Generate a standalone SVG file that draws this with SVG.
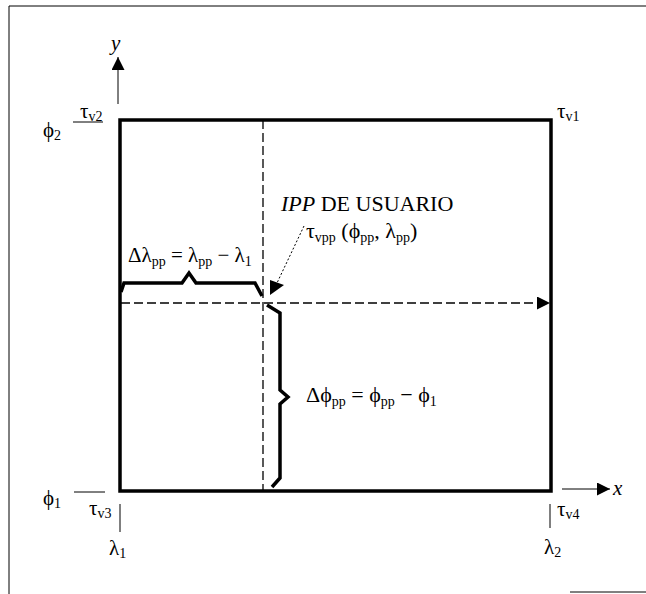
<svg xmlns="http://www.w3.org/2000/svg" width="646" height="594" viewBox="0 0 646 594">
<defs>
<style>
text{font-family:"Liberation Serif","Times New Roman",serif;fill:#000;font-size:21px}
.s{font-size:14px}
.it{font-style:italic}
.big{font-size:22px}
.thin{stroke:#000;stroke-width:1;fill:none}
.dash{stroke:#000;stroke-width:1.3;fill:none;stroke-dasharray:9 4}
.brace{stroke:#000;stroke-width:3.5;fill:none;stroke-linejoin:miter}
</style>
<marker id="ahb" viewBox="0 0 10 10" refX="10" refY="5" markerWidth="15" markerHeight="13" markerUnits="userSpaceOnUse" orient="auto">
<path d="M0,0 L10,5 L0,10 Z" fill="#000"/>
</marker>
</defs>
<rect width="646" height="594" fill="#fff"/>
<g id="frame">
<path d="M9,594 L9,6 L646,6" class="thin" stroke-width="1.5"/>
<path d="M570,592 L646,592" class="thin" stroke-width="1.5"/>
</g>
<g id="region">
<rect x="120" y="120" width="431" height="371" fill="none" stroke="#000" stroke-width="3.5"/>
</g>
<g id="connectors">
<line x1="118" y1="104" x2="118" y2="57" class="thin" marker-end="url(#ahb)"/>
<line x1="562" y1="489" x2="610" y2="489" class="thin" marker-end="url(#ahb)"/>
<line x1="263" y1="120" x2="263" y2="490" class="dash" stroke-dasharray="6 3"/>
<line x1="121" y1="303" x2="550" y2="303" class="dash" marker-end="url(#ahb)"/>
<line x1="304" y1="226" x2="277" y2="283" class="thin" stroke-dasharray="2 2"/>
<path d="M270,280 L284,285 L270,295 Z" fill="#000"/>
<line x1="73" y1="122" x2="103" y2="122" class="thin"/>
<line x1="74" y1="492" x2="105" y2="492" class="thin"/>
<line x1="120" y1="504" x2="120" y2="532" class="thin"/>
<line x1="550" y1="504" x2="550" y2="528" class="thin"/>
<path d="M121,292 L124,283 L182,283 L189,273 L196,283 L255,283 L262,296" class="brace"/>
<path d="M267,305 L280,313 L280,390 L288,397 L280,404 L280,478 L272,487" class="brace"/>
</g>
<g id="axis-y"><text x="111" y="50" class="it">y</text></g>
<g id="axis-x"><text x="613" y="495" class="it">x</text></g>
<g id="tv2"><text x="80" y="118">τ<tspan class="s" dy="3">v2</tspan></text></g>
<g id="tv1"><text x="557" y="118">τ<tspan class="s" dy="3">v1</tspan></text></g>
<g id="tv3"><text x="89" y="515">τ<tspan class="s" dy="3">v3</tspan></text></g>
<g id="tv4"><text x="557" y="516">τ<tspan class="s" dy="3">v4</tspan></text></g>
<g id="phi2"><text x="43" y="137">ϕ<tspan class="s" dy="3">2</tspan></text></g>
<g id="phi1"><text x="43" y="505">ϕ<tspan class="s" dy="3">1</tspan></text></g>
<g id="lambda1"><text x="109" y="555">λ<tspan class="s" dy="3">1</tspan></text></g>
<g id="lambda2"><text x="544" y="554">λ<tspan class="s" dy="3">2</tspan></text></g>
<g id="ipp">
<text x="281" y="211" class="big"><tspan class="it">IPP</tspan> DE USUARIO</text>
<text x="306" y="238" class="big">τ<tspan class="s" dy="4">vpp</tspan><tspan dy="-4"> (ϕ</tspan><tspan class="s" dy="4">pp</tspan><tspan dy="-4">, λ</tspan><tspan class="s" dy="4">pp</tspan><tspan dy="-4">)</tspan></text>
</g>
<g id="dlambda">
<text x="128" y="262">Δλ<tspan class="s" dy="4">pp</tspan><tspan dy="-4"> = λ</tspan><tspan class="s" dy="4">pp</tspan><tspan dy="-4"> − λ</tspan><tspan class="s" dy="4">1</tspan></text>
</g>
<g id="dphi">
<text x="306" y="402" class="big">Δϕ<tspan class="s" dy="4">pp</tspan><tspan dy="-4"> = ϕ</tspan><tspan class="s" dy="4">pp</tspan><tspan dy="-4"> − ϕ</tspan><tspan class="s" dy="4">1</tspan></text>
</g>
</svg>
